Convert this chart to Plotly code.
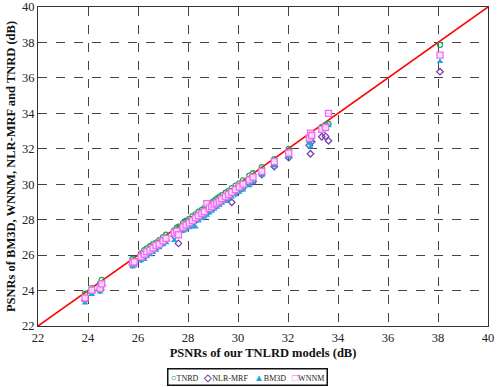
import plotly.graph_objects as go

x_ours = [23.88, 24.15, 24.48, 24.55, 25.78, 25.85, 26.12, 26.25, 26.35, 26.48, 26.60, 26.72,
          26.85, 27.00, 27.12, 27.45, 27.55, 27.62, 27.80, 27.92, 28.05, 28.18, 28.30, 28.42,
          28.55, 28.65, 28.75, 28.85, 28.95, 29.05, 29.15, 29.25, 29.35, 29.50, 29.62, 29.75,
          29.90, 30.05, 30.20, 30.45, 30.60, 30.95, 31.45, 32.03, 32.85, 32.90, 32.95, 33.35,
          33.50, 33.62, 38.08]
y_tnrd = [23.82, 24.14, 24.40, 24.60, 25.78, 25.70, 26.10, 26.28, 26.38, 26.50, 26.62, 26.70,
          26.85, 27.02, 27.15, 27.40, 27.55, 27.60, 27.80, 27.95, 28.05, 28.20, 28.30, 28.45,
          28.55, 28.65, 28.78, 28.88, 28.98, 29.08, 29.18, 29.28, 29.38, 29.52, 29.62, 29.78,
          29.92, 30.05, 30.22, 30.48, 30.62, 30.97, 31.42, 32.00, 32.45, 32.60, 32.70, 33.22,
          33.35, 33.40, 37.86]
y_nlr = [23.45, 23.90, 24.02, 24.30, 25.45, 25.50, 25.78, 25.90, 26.05, 26.15, 26.30, 26.40,
         26.55, 26.70, 26.82, 27.08, 27.20, 26.66, 27.45, 27.55, 27.70, 27.82, 27.95, 28.08,
         28.20, 28.28, 28.40, 28.50, 28.62, 28.70, 28.82, 28.92, 29.02, 29.15, 29.25, 28.98,
         29.50, 29.65, 29.80, 30.05, 30.15, 30.55, 31.00, 31.50, 32.20, 31.72, 32.40, 32.68,
         32.70, 32.45, 36.35]
y_bm3d = [23.30, 23.78, 23.92, 24.10, 25.35, 25.40, 25.68, 25.75, 25.92, 26.02, 26.15, 26.28,
          26.42, 26.58, 26.70, 26.82, 27.10, 27.20, 27.35, 27.42, 27.55, 27.60, 27.58, 27.92,
          28.05, 28.15, 28.25, 28.38, 28.48, 28.60, 28.70, 28.80, 28.92, 29.02, 29.15, 29.28,
          29.40, 29.55, 29.68, 29.92, 30.10, 30.50, 31.03, 31.55, 32.30, 32.10, 32.45, 33.10,
          33.25, 33.30, 36.92]
y_wnnm = [23.58, 24.02, 24.12, 24.38, 25.57, 25.62, 25.90, 26.05, 26.20, 26.28, 26.40, 26.55,
          26.62, 26.80, 26.95, 27.25, 27.35, 27.15, 27.58, 27.70, 27.82, 27.95, 28.10, 28.22,
          28.35, 28.45, 28.90, 28.65, 28.75, 28.88, 28.95, 29.05, 29.18, 29.30, 29.42, 29.55,
          29.70, 29.85, 30.00, 30.25, 30.40, 30.72, 31.27, 31.76, 32.60, 32.88, 32.75, 33.10,
          33.20, 34.00, 37.29]
diag = [22, 40]
ticks = [22, 24, 26, 28, 30, 32, 34, 36, 38, 40]
series_names = ["TNRD", "NLR-MRF", "BM3D", "WNNM"]
colors = ["#22a85a", "#7a3fa8", "#1fa8e0", "#f06cf0"]
legend_glyphs = ["○", "◇", "▲", "□"]

FONT = "Times New Roman, Liberation Serif, serif"
fig = go.Figure()
fig.add_trace(go.Scatter(x=diag, y=diag, mode="lines", line=dict(color="#ff0000", width=1.6),
                         showlegend=False, hoverinfo="skip"))
fig.add_trace(go.Scatter(x=x_ours, y=y_tnrd, mode="markers", name=series_names[0],
                         marker=dict(symbol="circle-open", size=5, color=colors[0], line=dict(width=1.3))))
fig.add_trace(go.Scatter(x=x_ours, y=y_nlr, mode="markers", name=series_names[1],
                         marker=dict(symbol="diamond-open", size=5, color=colors[1], line=dict(width=1.3))))
fig.add_trace(go.Scatter(x=x_ours, y=y_bm3d, mode="markers", name=series_names[2],
                         marker=dict(symbol="triangle-up", size=6, color=colors[2], line=dict(width=0))))
fig.add_trace(go.Scatter(x=x_ours, y=y_wnnm, mode="markers", name=series_names[3],
                         marker=dict(symbol="square", size=6, color="rgba(255,225,255,0.9)",
                                     line=dict(width=1.3, color=colors[3]))))

axis_common = dict(range=[22, 40], tickvals=ticks, showgrid=True, gridcolor="#444444",
                   griddash="dash", gridwidth=1, zeroline=False, showline=True, linecolor="#333333",
                   linewidth=1, mirror=True, ticks="", automargin=False, ticklabeloverflow="allow",
                   tickfont=dict(family=FONT, size=12.5, color="#222"))
fig.update_xaxes(**axis_common,
                 title=dict(text="<b>PSNRs of our TNLRD models (dB)</b>", standoff=4,
                            font=dict(family=FONT, size=12.5, color="#111")))
fig.update_yaxes(**axis_common,
                 title=dict(text="<b>PSNRs of BM3D, WNNM, NLR-MRF and TNRD (dB)</b>", standoff=3,
                            font=dict(family=FONT, size=12.5, color="#111")))

legend_text = "&nbsp;&nbsp;&nbsp;".join(
    f'<span style="color:{c};font-size:10px;font-weight:bold">{g}</span>{n}'
    for g, c, n in zip(legend_glyphs, colors, series_names)
)
fig.add_annotation(xref="paper", yref="paper", x=0.4656, y=-0.1317, xanchor="center", yanchor="top",
                   text=legend_text, showarrow=False, bordercolor="#111", borderwidth=1.5,
                   borderpad=2, font=dict(family=FONT, size=8, color="#222"), bgcolor="white")

fig.update_layout(
    width=499, height=387,
    margin=dict(l=38, r=11, t=7, b=61),
    plot_bgcolor="white", paper_bgcolor="white",
    showlegend=False,
)
fig.write_html("out.html", config={"displayModeBar": False},
               post_script="document.body.style.margin='0';document.body.style.overflow='hidden';")
